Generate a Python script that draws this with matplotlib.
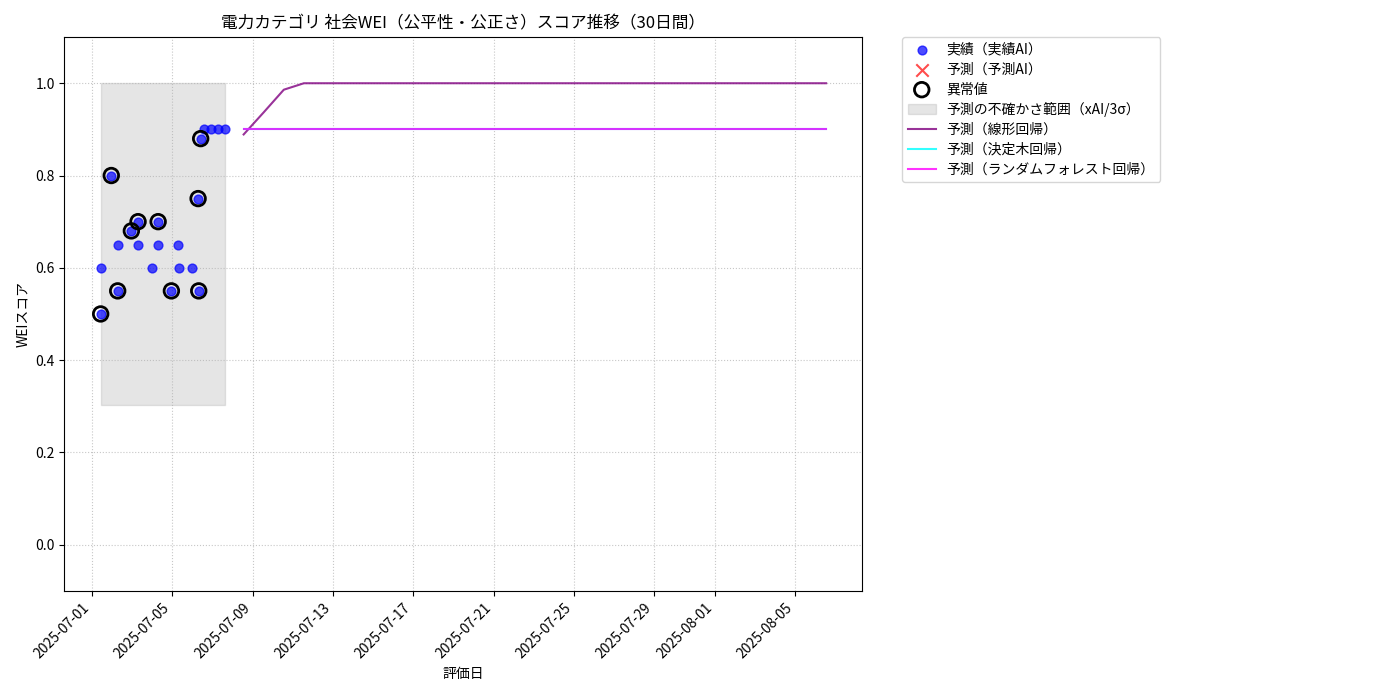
import pandas as pd
import matplotlib
matplotlib.use("Agg")
import matplotlib.pyplot as plt
import matplotlib.dates as mdates

plt.rcParams['font.family'] = ['Noto Sans CJK JP', 'DejaVu Sans']

# actual scores (実績AI)
actual_dates = pd.to_datetime([
    "2025-07-01 10:20", "2025-07-01 10:20", "2025-07-01 23:00",
    "2025-07-02 06:40", "2025-07-02 07:00", "2025-07-02 23:00",
    "2025-07-03 07:00", "2025-07-03 07:00", "2025-07-03 23:45",
    "2025-07-04 07:00", "2025-07-04 07:00", "2025-07-04 22:50",
    "2025-07-05 06:45", "2025-07-05 08:00", "2025-07-05 23:30",
    "2025-07-06 06:45", "2025-07-06 07:30", "2025-07-06 09:50",
    "2025-07-06 13:40", "2025-07-06 22:30", "2025-07-07 06:30",
    "2025-07-07 14:25",
])
actual_scores = [
    0.50, 0.60, 0.80,
    0.55, 0.65, 0.68,
    0.70, 0.65, 0.60,
    0.70, 0.65, 0.55,
    0.65, 0.60, 0.60,
    0.75, 0.55, 0.88,
    0.90, 0.90, 0.90,
    0.90,
]
is_anomaly = [
    True, False, True,
    True, False, True,
    True, False, False,
    True, False, True,
    False, False, False,
    True, True, True,
    False, False, False,
    False,
]

# uncertainty band (xAI / 3 sigma)
band_low = 0.303
band_high = 1.0

# forecasts, 30 days
pred_dates = pd.date_range("2025-07-08 13:10", periods=30, freq="D")
pred_linear = [0.889, 0.937, 0.986, 1.0, 1.0, 1.0, 1.0, 1.0, 1.0, 1.0,
               1.0, 1.0, 1.0, 1.0, 1.0, 1.0, 1.0, 1.0, 1.0, 1.0,
               1.0, 1.0, 1.0, 1.0, 1.0, 1.0, 1.0, 1.0, 1.0, 1.0]
pred_tree = [0.90] * 30
pred_forest = [0.90] * 30


def main():
    fig, ax = plt.subplots(figsize=(14, 7), dpi=100)

    ax.scatter(actual_dates, actual_scores, color='blue', alpha=0.7, s=40,
               label='実績（実績AI）', zorder=3)
    ax.scatter([], [], color='red', marker='x', alpha=0.7, s=80,
               label='予測（予測AI）')
    an_d = [d for d, a in zip(actual_dates, is_anomaly) if a]
    an_s = [s for s, a in zip(actual_scores, is_anomaly) if a]
    ax.scatter(an_d, an_s, facecolors='none', edgecolors='black', s=110,
               linewidths=2, label='異常値', zorder=4)
    ax.fill_between([actual_dates.min(), actual_dates.max()],
                    band_low, band_high, color='gray', alpha=0.2,
                    label='予測の不確かさ範囲（xAI/3σ）', zorder=1)

    ax.plot(pred_dates, pred_linear, color='purple', alpha=0.8,
            label='予測（線形回帰）')
    ax.plot(pred_dates, pred_tree, color='cyan', alpha=0.8,
            label='予測（決定木回帰）')
    ax.plot(pred_dates, pred_forest, color='magenta', alpha=0.8,
            label='予測（ランダムフォレスト回帰）')

    ax.set_ylim(-0.1, 1.1)
    ax.set_title('電力カテゴリ 社会WEI（公平性・公正さ）スコア推移（30日間）')
    ax.set_xlabel('評価日')
    ax.set_ylabel('WEIスコア')
    ax.grid(True, linestyle=':', alpha=0.7)
    ax.xaxis.set_major_formatter(mdates.DateFormatter('%Y-%m-%d'))
    plt.setp(ax.get_xticklabels(), rotation=45, ha='right')
    ax.legend(bbox_to_anchor=(1.05, 1), loc='upper left', borderaxespad=0.,
              labelspacing=0.42)

    fig.subplots_adjust(left=0.046, right=0.616, top=0.947, bottom=0.156)
    plt.savefig('out.png')


if __name__ == '__main__':
    main()
